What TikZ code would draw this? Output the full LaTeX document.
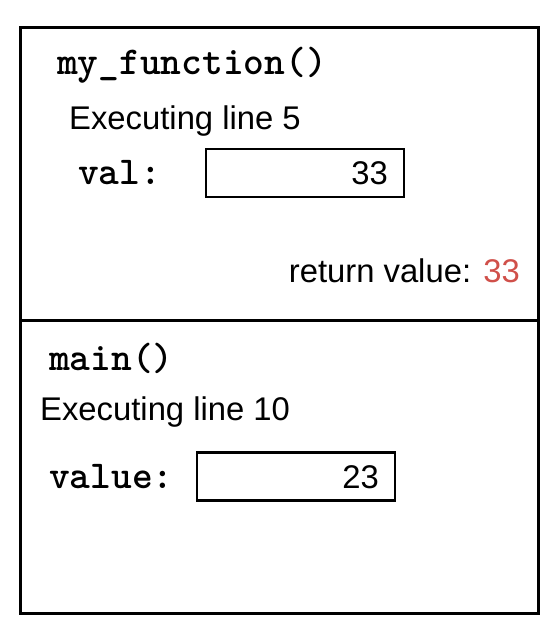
\documentclass[tikz,border=0pt]{standalone}
\usepackage{fontspec}
\setmainfont{Liberation Sans}
\newfontfamily\codefont{lmmonolt10-bold}[Extension=.otf]
\definecolor{retred}{RGB}{208,80,74}
\begin{document}
\begin{tikzpicture}[x=1pt,y=-1pt,
  frame/.style={draw, line width=3pt},
  varbox/.style={draw, line width=2.6pt, inner sep=0pt, minimum width=198pt, minimum height=48pt},
  codetxt/.style={inner sep=0pt, anchor=base west, font=\fontsize{39.5}{39.5}\codefont},
  plaintxt/.style={inner sep=0pt, font=\fontsize{32.8}{32.8}\selectfont}
]
\useasboundingbox (0,0) rectangle (558,636);

% stack frames
\draw[frame] (20,28) rectangle (538,613);
\coordinate (divl) at (20,320);
\coordinate (divr) at (538,320);
\draw[frame] (divl) -- (divr);

% frame of my_function()
\node[codetxt] (fname) at (57,75) {my\_function()};
\node[plaintxt, anchor=base west] (fline) at (69,130) {Executing line 5};
\node[codetxt] (valname) at (78,185) {val:};
\node[varbox] (valbox) at (305,173) {};
\node[plaintxt, anchor=base east] (valnum) at (388,185) {33};
\node[plaintxt, anchor=base east] (ret) at (520,282) {return value: \textcolor{retred}{33}};

% frame of main()
\node[codetxt] (mname) at (49,370) {main()};
\node[plaintxt, anchor=base west] (mline) at (40,420) {Executing line 10};
\node[codetxt] (valuename) at (49,488) {value:};
\node[varbox] (valuebox) at (296,476.5) {};
\node[plaintxt, anchor=base east] (valuenum) at (379,488) {23};
\end{tikzpicture}
\end{document}
